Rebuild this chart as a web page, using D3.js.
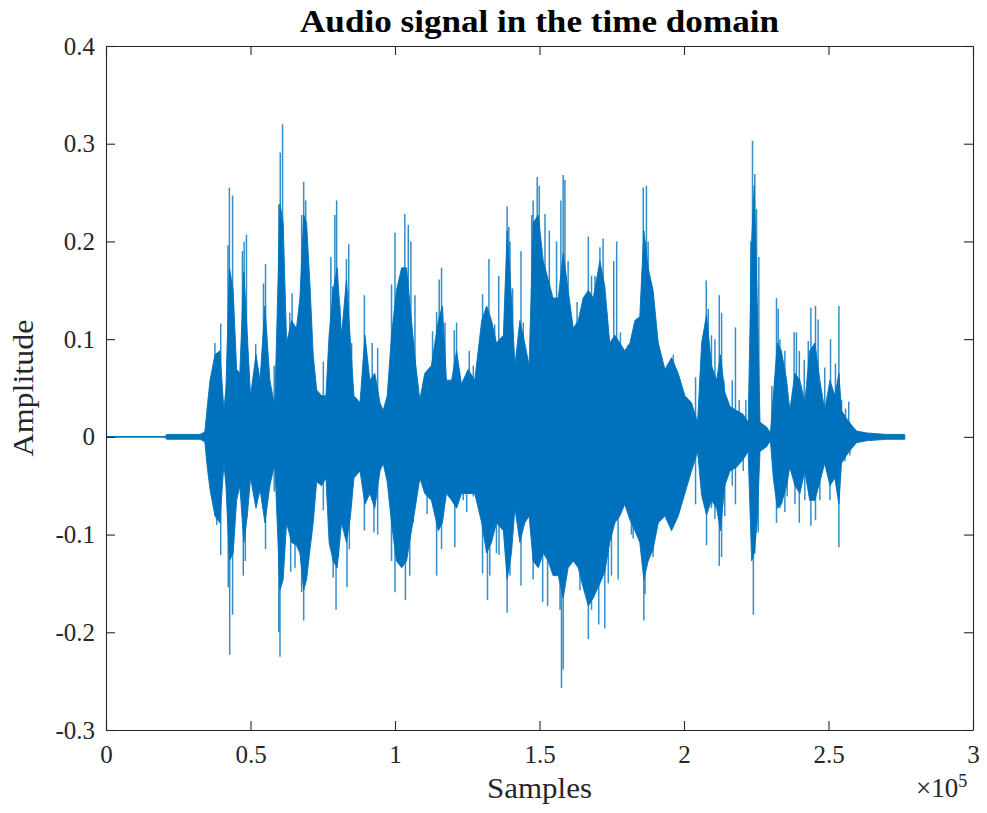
<!DOCTYPE html>
<html>
<head>
<meta charset="utf-8">
<script src="https://cdn.jsdelivr.net/npm/d3@7/dist/d3.min.js"></script>
<style>
  html, body { margin: 0; padding: 0; background: #ffffff; }
  svg { display: block; }
  text { font-family: "Liberation Serif", "Times New Roman", serif; }
</style>
</head>
<body>
<svg id="chart" width="987" height="813"></svg>
<script>
// Sample positions are in thousands of samples.
// Dense body of the waveform: upper and lower envelope.
const coreSamples = [
  0, 20.4, 21, 32.5, 34.2, 35.0, 36.0, 37.7, 39.4, 40.8,
  41.5, 42.7, 44.0, 45.2, 46.3, 47.7, 48.9, 50.0, 51.9, 53.3,
  55.0, 56.7, 58.4, 60.2, 61.3, 62.5, 64.2, 65.9, 67.1, 68.4,
  69.4, 70.6, 71.7, 72.9, 74.6, 76.1, 77.2, 78.6, 80.0, 81.5,
  83.2, 84.6, 85.8, 87.9, 89.6, 91.3, 93.0, 94.8, 95.9, 97.3,
  98.8, 100.5, 102.3, 104.0, 105.7, 107.2, 108.6, 110.3, 112.6, 115.0,
  116.4, 117.8, 119.6, 121.3, 123.0, 125.3, 127.6, 130.0, 131.7, 133.4,
  135.1, 137.5, 138.8, 140.3, 141.5, 143.2, 144.9, 146.4, 147.8, 149.6,
  151.3, 153.0, 154.7, 156.5, 158.2, 159.9, 161.7, 163.4, 165.1, 166.9,
  168.6, 170.9, 172.6, 174.3, 176.1, 177.8, 179.5, 181.3, 183.0, 184.7,
  186.1, 187.6, 189.3, 191.1, 193.4, 195.7, 198.0, 200.3, 202.6, 204.7,
  206.1, 207.8, 209.5, 211.3, 212.6, 214.1, 215.9, 218.2, 220.5, 222.2,
  223.4, 224.3, 225.3, 226.3, 228.6, 229.9, 230.9, 232.3, 233.7, 235.5,
  236.6, 238.4, 240.1, 241.8, 243.5, 245.3, 247.0, 248.7, 250.5, 252.2,
  253.6, 254.5, 256.2, 258.0, 259.7, 263.2, 270.1, 276.4
];
const coreUpper = [
  0.0004, 0.0004, 0.0025, 0.0025, 0.005, 0.03, 0.058, 0.084, 0.088, 0.027,
  0.05, 0.173, 0.15, 0.069, 0.065, 0.169, 0.104, 0.042, 0.084, 0.058,
  0.134, 0.058, 0.031, 0.238, 0.219, 0.096, 0.119, 0.111, 0.142, 0.227,
  0.219, 0.154, 0.084, 0.048, 0.042, 0.042, 0.104, 0.15, 0.173, 0.104,
  0.161, 0.096, 0.042, 0.035, 0.104, 0.058, 0.065, 0.035, 0.027, 0.042,
  0.104, 0.15, 0.173, 0.173, 0.119, 0.073, 0.038, 0.065, 0.073, 0.119,
  0.134, 0.058, 0.058, 0.088, 0.054, 0.069, 0.058, 0.119, 0.134, 0.119,
  0.096, 0.104, 0.211, 0.142, 0.073, 0.119, 0.096, 0.073, 0.219, 0.227,
  0.18, 0.161, 0.142, 0.142, 0.188, 0.15, 0.111, 0.119, 0.142, 0.15,
  0.142, 0.18, 0.154, 0.096, 0.104, 0.096, 0.088, 0.096, 0.119, 0.123,
  0.211, 0.173, 0.15, 0.096, 0.069, 0.081, 0.065, 0.042, 0.035, 0.015,
  0.096, 0.125, 0.073, 0.058, 0.084, 0.046, 0.031, 0.027, 0.023, 0.015,
  0.2, 0.257, 0.142, 0.015, 0.01, 0.004, 0.042, 0.096, 0.088, 0.058,
  0.027, 0.065, 0.058, 0.035, 0.088, 0.096, 0.058, 0.027, 0.058, 0.042,
  0.065, 0.027, 0.019, 0.012, 0.006, 0.004, 0.0025, 0.0025
];
const coreLower = [
  -0.0004, -0.0004, -0.0025, -0.0025, -0.005, -0.03, -0.054, -0.081, -0.088, -0.027,
  -0.05, -0.127, -0.119, -0.065, -0.05, -0.108, -0.081, -0.042, -0.073, -0.054,
  -0.088, -0.05, -0.027, -0.157, -0.146, -0.088, -0.108, -0.111, -0.119, -0.157,
  -0.146, -0.115, -0.088, -0.046, -0.05, -0.042, -0.108, -0.127, -0.134, -0.088,
  -0.108, -0.081, -0.042, -0.035, -0.069, -0.058, -0.073, -0.035, -0.027, -0.046,
  -0.088, -0.127, -0.134, -0.127, -0.096, -0.069, -0.042, -0.058, -0.065, -0.096,
  -0.088, -0.058, -0.065, -0.073, -0.058, -0.058, -0.058, -0.088, -0.119, -0.108,
  -0.088, -0.096, -0.146, -0.119, -0.073, -0.108, -0.088, -0.081, -0.127, -0.134,
  -0.119, -0.127, -0.142, -0.142, -0.165, -0.134, -0.127, -0.134, -0.154, -0.173,
  -0.165, -0.15, -0.138, -0.108, -0.088, -0.081, -0.069, -0.085, -0.096, -0.108,
  -0.146, -0.127, -0.115, -0.088, -0.081, -0.096, -0.081, -0.058, -0.035, -0.015,
  -0.06, -0.08, -0.065, -0.073, -0.096, -0.05, -0.035, -0.031, -0.023, -0.015,
  -0.127, -0.119, -0.088, -0.015, -0.01, -0.004, -0.042, -0.073, -0.069, -0.05,
  -0.031, -0.05, -0.058, -0.035, -0.065, -0.065, -0.046, -0.027, -0.05, -0.042,
  -0.069, -0.027, -0.019, -0.012, -0.006, -0.004, -0.0025, -0.0025
];

// Individual positive peaks: [sample (thousands), amplitude]
const upperPeaks = [
  [36.3, 0.061], [37.7, 0.096], [38.3, 0.084], [39.7, 0.116], [42.2, 0.196], [42.7, 0.255],
  [43.8, 0.247], [47.2, 0.19], [47.8, 0.2], [48.6, 0.207], [51.8, 0.095], [54.5, 0.157],
  [55.2, 0.177], [58.2, 0.073], [59.8, 0.238], [60.3, 0.291], [61.1, 0.32], [63.6, 0.127],
  [64.4, 0.147], [67.7, 0.227], [68.4, 0.261], [69.1, 0.242], [75.2, 0.077], [77.8, 0.184],
  [78.4, 0.154], [79.2, 0.227], [79.8, 0.242], [80.9, 0.134], [83.2, 0.182], [84.0, 0.197],
  [85.0, 0.096], [89.4, 0.145], [92.1, 0.096], [94.0, 0.091], [98.8, 0.156], [100.0, 0.209],
  [103.4, 0.228], [104.6, 0.217], [105.5, 0.2], [106.9, 0.145], [113.0, 0.108], [114.4, 0.128],
  [115.3, 0.161], [116.1, 0.173], [117.3, 0.117], [120.5, 0.109], [121.3, 0.117], [125.7, 0.088],
  [127.1, 0.073], [130.3, 0.146], [132.5, 0.182], [134.5, 0.115], [135.9, 0.165], [138.8, 0.236],
  [139.4, 0.215], [139.8, 0.2], [140.7, 0.152], [143.6, 0.19], [144.4, 0.117], [147.3, 0.227],
  [147.8, 0.242], [149.2, 0.266], [149.9, 0.257], [151.9, 0.228], [153.4, 0.211], [155.9, 0.2],
  [157.4, 0.242], [158.2, 0.268], [158.8, 0.263], [159.9, 0.18], [163.0, 0.138], [166.9, 0.205],
  [168.0, 0.165], [169.2, 0.165], [170.9, 0.194], [172.0, 0.203], [173.2, 0.127], [175.7, 0.18],
  [176.7, 0.2], [178.0, 0.107], [180.7, 0.094], [183.6, 0.121], [184.7, 0.121], [185.9, 0.255],
  [187.0, 0.257], [187.6, 0.2], [196.3, 0.084], [204.0, 0.061], [207.2, 0.111], [207.7, 0.16],
  [208.4, 0.131], [209.5, 0.104], [210.7, 0.1], [212.2, 0.145], [213.0, 0.127], [213.8, 0.058],
  [216.7, 0.058], [217.8, 0.112], [219.1, 0.038], [221.4, 0.038], [223.1, 0.2], [223.7, 0.303],
  [224.5, 0.269], [225.1, 0.233], [225.9, 0.184], [230.4, 0.052], [232.0, 0.142], [232.6, 0.131],
  [233.2, 0.1], [234.9, 0.088], [238.1, 0.107], [238.9, 0.107], [239.9, 0.088], [241.6, 0.079],
  [243.0, 0.098], [243.9, 0.132], [245.5, 0.134], [246.4, 0.12], [248.7, 0.071], [250.7, 0.1],
  [252.4, 0.075], [253.6, 0.134], [254.5, 0.038], [255.9, 0.029], [257.0, 0.036]
];

// Individual negative peaks: [sample (thousands), amplitude]
const lowerPeaks = [
  [38.3, -0.09], [39.7, -0.121], [42.3, -0.154], [42.8, -0.223], [43.8, -0.182], [47.5, -0.142],
  [48.2, -0.127], [55.2, -0.115], [58.2, -0.056], [59.8, -0.2], [60.2, -0.225], [63.9, -0.138],
  [65.4, -0.134], [67.7, -0.159], [68.4, -0.188], [75.2, -0.075], [78.6, -0.144], [79.6, -0.177],
  [80.4, -0.123], [83.4, -0.154], [84.2, -0.115], [89.4, -0.096], [92.7, -0.098], [94.0, -0.1],
  [98.8, -0.127], [100.0, -0.159], [103.6, -0.167], [105.1, -0.142], [106.3, -0.088], [111.1, -0.079],
  [114.4, -0.142], [116.1, -0.115], [120.7, -0.113], [123.6, -0.065], [124.8, -0.077], [127.1, -0.061],
  [130.3, -0.14], [132.0, -0.167], [132.8, -0.142], [135.1, -0.119], [136.0, -0.121], [138.8, -0.18],
  [139.8, -0.142], [143.6, -0.152], [144.9, -0.088], [147.8, -0.146], [151.1, -0.169], [152.8, -0.173],
  [157.1, -0.177], [157.6, -0.257], [158.2, -0.238], [159.4, -0.13], [161.7, -0.127], [164.0, -0.157],
  [166.9, -0.207], [168.0, -0.177], [170.5, -0.192], [172.6, -0.196], [173.8, -0.15], [174.9, -0.142],
  [177.2, -0.146], [179.5, -0.061], [181.8, -0.1], [182.4, -0.104], [184.1, -0.092], [186.1, -0.188],
  [186.5, -0.161], [187.6, -0.127], [189.3, -0.123], [204.0, -0.069], [207.8, -0.111], [209.5, -0.073],
  [210.7, -0.084], [212.2, -0.132], [213.0, -0.123], [214.1, -0.081], [216.7, -0.05], [217.8, -0.069],
  [220.5, -0.035], [224.0, -0.182], [224.5, -0.119], [225.7, -0.098], [232.0, -0.088], [233.2, -0.073],
  [234.9, -0.077], [235.7, -0.061], [238.4, -0.069], [239.9, -0.088], [241.8, -0.065], [243.9, -0.091],
  [245.5, -0.085], [247.0, -0.065], [250.5, -0.065], [253.6, -0.113], [255.7, -0.025], [257.4, -0.019]
];

const xTickValues = [0, 50000, 100000, 150000, 200000, 250000, 300000];
const xTickLabels = ["0", "0.5", "1", "1.5", "2", "2.5", "3"];
const yTickValues = [-0.3, -0.2, -0.1, 0, 0.1, 0.2, 0.3, 0.4];
const yTickLabels = ["-0.3", "-0.2", "-0.1", "0", "0.1", "0.2", "0.3", "0.4"];

const titleText = "Audio signal in the time domain";
const xLabelText = "Samples";
const yLabelText = "Amplitude";

const lineColor = "#0072BD";
const axisColor = "#262626";

const svg = d3.select("#chart");
const margin = { left: 106, top: 46, right: 14, bottom: 83 };
const W = 987, H = 813;

const x = d3.scaleLinear().domain([0, 300000]).range([margin.left, W - margin.right]);
const y = d3.scaleLinear().domain([-0.3, 0.4]).range([H - margin.bottom, margin.top]);

svg.append("defs").append("clipPath").attr("id", "plotClip")
  .append("rect")
  .attr("x", x(0)).attr("y", y(0.4))
  .attr("width", x(300000) - x(0)).attr("height", y(-0.3) - y(0.4));

const plot = svg.append("g").attr("clip-path", "url(#plotClip)");

// Dense waveform body
const core = coreSamples.map((s, i) => ({ s: s * 1000, hi: coreUpper[i], lo: coreLower[i] }));
const area = d3.area()
  .x(d => x(d.s))
  .y0(d => y(d.lo))
  .y1(d => y(d.hi))
  .curve(d3.curveLinear);

plot.append("path")
  .datum(core)
  .attr("d", area)
  .attr("fill", lineColor)
  .attr("stroke", lineColor)
  .attr("stroke-width", 0.9)
  .attr("stroke-linejoin", "round");

// Peaks rising out of the body
const peaks = upperPeaks.concat(lowerPeaks);
plot.append("g")
  .selectAll("line")
  .data(peaks)
  .join("line")
  .attr("x1", d => x(d[0] * 1000))
  .attr("x2", d => x(d[0] * 1000))
  .attr("y1", y(0))
  .attr("y2", d => y(d[1]))
  .attr("stroke", lineColor)
  .attr("stroke-width", 1.5)
  .attr("stroke-opacity", 0.8);

// Axes: ticks point inward on all four sides
const tickLen = 9;
const styleAxis = g => {
  g.selectAll("path.domain").attr("stroke", axisColor).attr("stroke-width", 1.1);
  g.selectAll(".tick line").attr("stroke", axisColor).attr("stroke-width", 1.1);
  g.selectAll(".tick text")
    .attr("fill", axisColor)
    .style("font-family", '"Liberation Serif", serif')
    .style("font-size", "25px");
};

svg.append("g")
  .attr("transform", `translate(0,${y(-0.3)})`)
  .call(d3.axisBottom(x).tickValues(xTickValues)
    .tickFormat((d, i) => xTickLabels[i])
    .tickSizeInner(-tickLen).tickSizeOuter(0).tickPadding(15))
  .call(styleAxis);

svg.append("g")
  .attr("transform", `translate(0,${y(0.4)})`)
  .call(d3.axisTop(x).tickValues(xTickValues).tickFormat("")
    .tickSizeInner(-tickLen).tickSizeOuter(0))
  .call(styleAxis);

svg.append("g")
  .attr("transform", `translate(${x(0)},0)`)
  .call(d3.axisLeft(y).tickValues(yTickValues)
    .tickFormat((d, i) => yTickLabels[i])
    .tickSizeInner(-tickLen).tickSizeOuter(0).tickPadding(11))
  .call(styleAxis);

svg.append("g")
  .attr("transform", `translate(${x(300000)},0)`)
  .call(d3.axisRight(y).tickValues(yTickValues).tickFormat("")
    .tickSizeInner(-tickLen).tickSizeOuter(0))
  .call(styleAxis);

// Exponent marker for the sample axis
const expo = svg.append("text")
  .attr("x", 916).attr("y", 797)
  .attr("fill", axisColor)
  .style("font-size", "27px");
expo.append("tspan").text("\u00d710");
expo.append("tspan").attr("dy", -10).style("font-size", "18px").text("5");

// Title and axis labels
const cx = (x(0) + x(300000)) / 2;
const cy = (y(0.4) + y(-0.3)) / 2;

svg.append("text")
  .attr("x", cx).attr("y", 32)
  .attr("text-anchor", "middle")
  .attr("fill", "#000")
  .attr("textLength", 479).attr("lengthAdjust", "spacingAndGlyphs")
  .style("font-size", "31px").style("font-weight", "bold")
  .text(titleText);

svg.append("text")
  .attr("x", cx).attr("y", 798)
  .attr("text-anchor", "middle")
  .attr("fill", axisColor)
  .attr("textLength", 105).attr("lengthAdjust", "spacingAndGlyphs")
  .style("font-size", "29px")
  .text(xLabelText);

svg.append("text")
  .attr("transform", `translate(33,${cy}) rotate(-90)`)
  .attr("text-anchor", "middle")
  .attr("fill", axisColor)
  .attr("textLength", 137).attr("lengthAdjust", "spacingAndGlyphs")
  .style("font-size", "29px")
  .text(yLabelText);
</script>
</body>
</html>
